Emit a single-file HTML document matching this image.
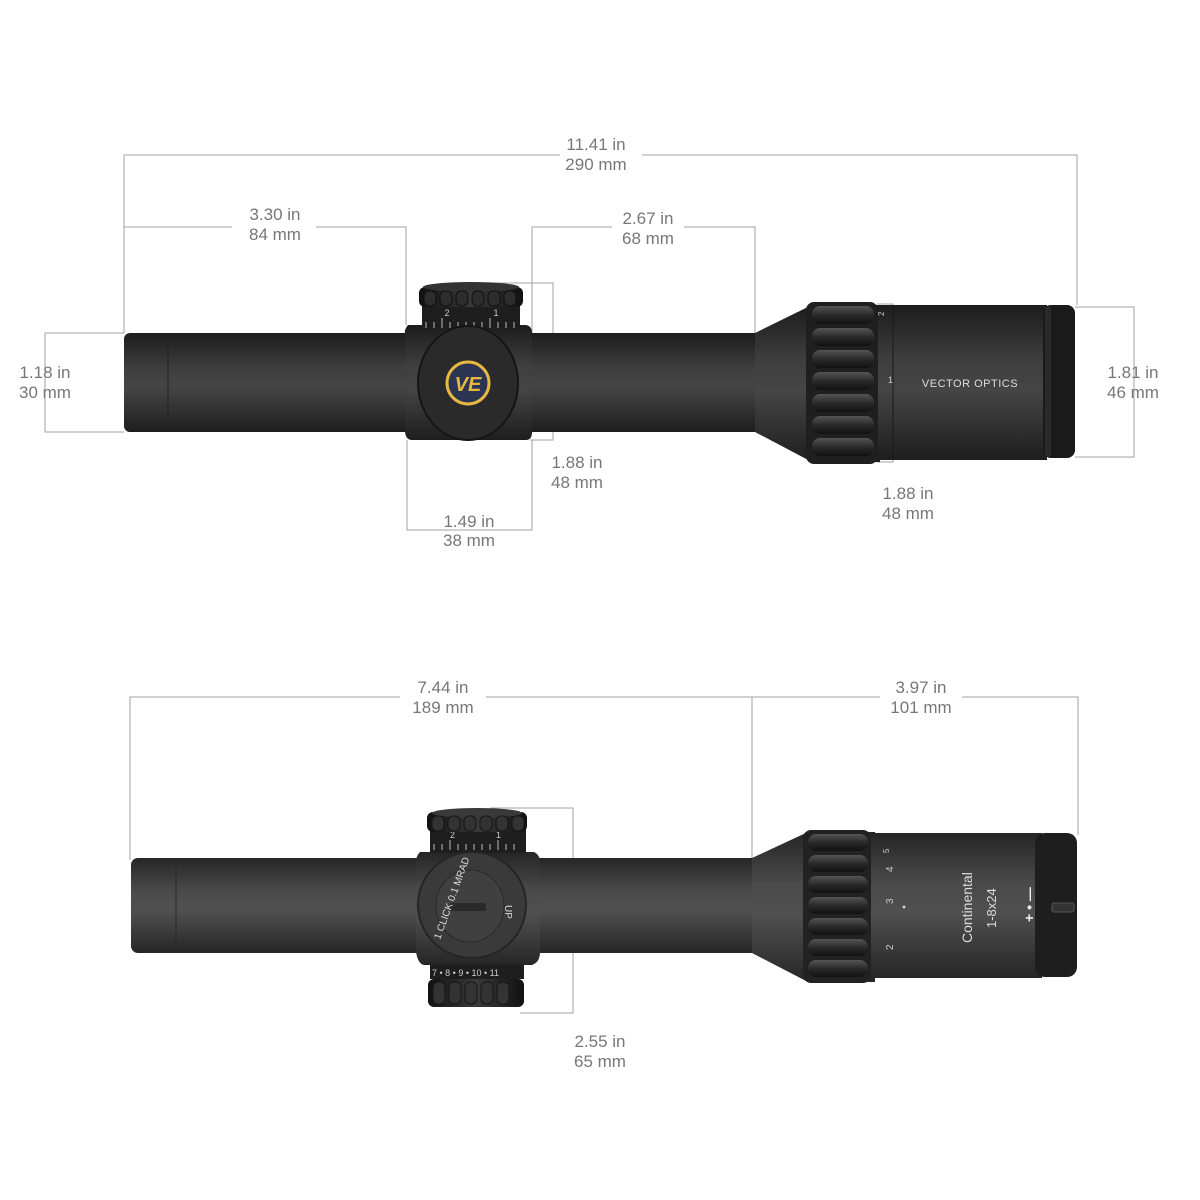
<!DOCTYPE html>
<html><head><meta charset="utf-8"><style>
html,body{margin:0;padding:0;background:#fff;}
svg{display:block;}
text{font-family:"Liberation Sans",sans-serif;}
.d{fill:#777;font-size:17px;text-anchor:middle;}
.l{stroke:#a0a0a0;stroke-width:1;fill:none;}
</style></head><body>
<svg width="1200" height="1200" viewBox="0 0 1200 1200" xmlns="http://www.w3.org/2000/svg">
<defs>
<linearGradient id="t" x1="0" y1="0" x2="0" y2="1">
<stop offset="0" stop-color="#1c1c1c"/><stop offset="0.35" stop-color="#3e3e3e"/><stop offset="0.55" stop-color="#454545"/><stop offset="1" stop-color="#1e1e1e"/></linearGradient>
<linearGradient id="t2" x1="0" y1="0" x2="0" y2="1">
<stop offset="0" stop-color="#262626"/><stop offset="0.35" stop-color="#4a4a4a"/><stop offset="0.55" stop-color="#505050"/><stop offset="1" stop-color="#262626"/></linearGradient>
<linearGradient id="k" x1="0" y1="0" x2="0" y2="1">
<stop offset="0" stop-color="#555"/><stop offset="0.5" stop-color="#2a2a2a"/><stop offset="1" stop-color="#111"/></linearGradient>
<linearGradient id="kv" x1="0" y1="0" x2="1" y2="0">
<stop offset="0" stop-color="#111"/><stop offset="0.5" stop-color="#3a3a3a"/><stop offset="1" stop-color="#111"/></linearGradient>
</defs>

<!-- ============ TOP DIMENSIONS ============ -->
<path class="l" d="M124 333V155H560M642 155H1077V305"/>
<text class="d" x="596" y="150">11.41 in</text><text class="d" x="596" y="170">290 mm</text>
<path class="l" d="M124 227H232M316 227H406V325"/>
<text class="d" x="275" y="220">3.30 in</text><text class="d" x="275" y="240">84 mm</text>
<path class="l" d="M532 335V227H612M684 227H755V333"/>
<text class="d" x="648" y="224">2.67 in</text><text class="d" x="648" y="244">68 mm</text>
<path class="l" d="M124 333H45V432H124"/>
<text class="d" x="45" y="378">1.18 in</text><text class="d" x="45" y="398">30 mm</text>
<path class="l" d="M1075 307H1134V457H1075"/>
<text class="d" x="1133" y="378">1.81 in</text><text class="d" x="1133" y="398">46 mm</text>
<path class="l" d="M490 283H553V440H530"/>
<text class="d" x="577" y="468">1.88 in</text><text class="d" x="577" y="488">48 mm</text>
<path class="l" d="M407 440V530H532V440"/>
<text class="d" x="469" y="527">1.49 in</text><text class="d" x="469" y="546">38 mm</text>
<path class="l" d="M877 304H893V462H877"/>
<text class="d" x="908" y="499">1.88 in</text><text class="d" x="908" y="519">48 mm</text>

<!-- ============ TOP SCOPE ============ -->
<rect x="124" y="333" width="300" height="99" rx="6" fill="url(#t)"/>
<line x1="168" y1="335" x2="168" y2="430" stroke="#222" stroke-width="1"/>
<rect x="520" y="333" width="240" height="99" fill="url(#t)"/>
<path d="M755 333L812 305H880V462H812L755 432Z" fill="url(#t)"/>
<rect x="877" y="305" width="170" height="155" fill="url(#t)"/>
<line x1="893" y1="306" x2="893" y2="459" stroke="#1a1a1a"/>
<rect x="1043" y="305" width="32" height="153" rx="8" fill="#1a1a1a"/>
<rect x="1045" y="307" width="6" height="149" fill="#2a2a2a"/>
<!-- ring -->
<rect x="806" y="302" width="72" height="162" rx="8" fill="#1f1f1f"/>
<g fill="url(#k)">
<rect x="812" y="306" width="62" height="18" rx="8"/><rect x="812" y="328" width="62" height="18" rx="8"/>
<rect x="812" y="350" width="62" height="18" rx="8"/><rect x="812" y="372" width="62" height="18" rx="8"/>
<rect x="812" y="394" width="62" height="18" rx="8"/><rect x="812" y="416" width="62" height="18" rx="8"/>
<rect x="812" y="438" width="62" height="18" rx="8"/>
</g>
<text x="884" y="316" fill="#ccc" font-size="8" transform="rotate(-90 884 316)">2</text>
<text x="888" y="383" fill="#ccc" font-size="9">1</text>
<text x="970" y="387" fill="#ddd" font-size="11" text-anchor="middle" letter-spacing="0.5">VECTOR OPTICS</text>
<!-- turret block -->
<path d="M408 325Q404 330 405 333V432Q406 440 412 440H526Q532 440 532 432V333Q532 326 526 325Z" fill="url(#t)"/>
<rect x="422" y="303" width="98" height="26" fill="#1e1e1e"/>
<g stroke="#bbb" stroke-width="1">
<line x1="426" y1="322" x2="426" y2="328"/><line x1="434" y1="322" x2="434" y2="328"/><line x1="442" y1="318" x2="442" y2="328"/>
<line x1="450" y1="322" x2="450" y2="328"/><line x1="458" y1="322" x2="458" y2="328"/><line x1="466" y1="322" x2="466" y2="328"/>
<line x1="474" y1="322" x2="474" y2="328"/><line x1="482" y1="322" x2="482" y2="328"/><line x1="490" y1="318" x2="490" y2="328"/>
<line x1="498" y1="322" x2="498" y2="328"/><line x1="506" y1="322" x2="506" y2="328"/><line x1="514" y1="322" x2="514" y2="328"/>
</g>
<text x="447" y="316" fill="#ccc" font-size="9" text-anchor="middle">2</text>
<text x="496" y="316" fill="#ccc" font-size="9" text-anchor="middle">1</text>
<rect x="419" y="287" width="104" height="20" rx="6" fill="url(#kv)"/>
<ellipse cx="471" cy="287" rx="48" ry="5" fill="#333"/>
<g fill="#2d2d2d" stroke="#111"><rect x="424" y="291" width="12" height="15" rx="5"/><rect x="440" y="291" width="12" height="15" rx="5"/><rect x="456" y="291" width="12" height="15" rx="5"/><rect x="472" y="291" width="12" height="15" rx="5"/><rect x="488" y="291" width="12" height="15" rx="5"/><rect x="504" y="291" width="12" height="15" rx="5"/></g>
<ellipse cx="468" cy="383" rx="50" ry="57" fill="#2a2a2a" stroke="#151515" stroke-width="2"/>
<circle cx="468" cy="383" r="21" fill="#2b3552" stroke="#e8b843" stroke-width="3"/>
<text x="468" y="391" fill="#e8b843" font-size="20" font-weight="bold" text-anchor="middle" font-style="italic">VE</text>

<!-- ============ BOTTOM DIMENSIONS ============ -->
<path class="l" d="M130 860V697H400M486 697H752V858M752 697H880M962 697H1078V835"/>
<text class="d" x="443" y="693">7.44 in</text><text class="d" x="443" y="713">189 mm</text>
<text class="d" x="921" y="693">3.97 in</text><text class="d" x="921" y="713">101 mm</text>
<path class="l" d="M490 808H573V1013H520"/>
<text class="d" x="600" y="1047">2.55 in</text><text class="d" x="600" y="1067">65 mm</text>

<!-- ============ BOTTOM SCOPE ============ -->
<rect x="131" y="858" width="300" height="95" rx="7" fill="url(#t2)"/>
<line x1="176" y1="860" x2="176" y2="951" stroke="#2a2a2a"/>
<rect x="530" y="858" width="226" height="95" fill="url(#t2)"/>
<path d="M752 858L808 832H875V982H808L752 953Z" fill="url(#t2)"/>
<rect x="870" y="833" width="172" height="145" fill="url(#t2)"/>
<rect x="1035" y="833" width="42" height="144" rx="10" fill="#1e1e1e"/>
<rect x="1052" y="903" width="22" height="9" rx="2" fill="#333" stroke="#555"/>
<rect x="803" y="830" width="68" height="153" rx="8" fill="#222"/>
<g fill="url(#k)">
<rect x="808" y="834" width="60" height="17" rx="8"/><rect x="808" y="855" width="60" height="17" rx="8"/>
<rect x="808" y="876" width="60" height="17" rx="8"/><rect x="808" y="897" width="60" height="17" rx="8"/>
<rect x="808" y="918" width="60" height="17" rx="8"/><rect x="808" y="939" width="60" height="17" rx="8"/>
<rect x="808" y="960" width="60" height="17" rx="8"/>
</g>
<g fill="#ccc" font-size="10">
<text x="893" y="950" transform="rotate(-90 893 950)">2</text>
<text x="893" y="904" transform="rotate(-90 893 904)">3</text>
<text x="893" y="872" transform="rotate(-90 893 872)">4</text>
<text x="889" y="853" transform="rotate(-90 889 853)" font-size="8">5</text>
</g>
<circle cx="904" cy="907" r="1.5" fill="#ccc"/>
<text x="972" y="943" fill="#ddd" font-size="14" transform="rotate(-90 972 943)">Continental</text>
<text x="996" y="928" fill="#ddd" font-size="13" transform="rotate(-90 996 928)">1-8x24</text>
<text x="1034" y="922" fill="#eee" font-size="14" font-weight="bold" transform="rotate(-90 1034 922)">+ • —</text>
<!-- turret bottom -->
<path d="M420 852Q416 856 416 862V952Q418 964 424 965H532Q540 962 540 952V862Q540 855 534 852Z" fill="url(#t2)"/>
<rect x="430" y="829" width="96" height="24" fill="#1e1e1e"/>
<g stroke="#bbb"><line x1="434" y1="844" x2="434" y2="850"/><line x1="442" y1="844" x2="442" y2="850"/><line x1="450" y1="840" x2="450" y2="850"/><line x1="458" y1="844" x2="458" y2="850"/><line x1="466" y1="844" x2="466" y2="850"/><line x1="474" y1="844" x2="474" y2="850"/><line x1="482" y1="844" x2="482" y2="850"/><line x1="490" y1="844" x2="490" y2="850"/><line x1="498" y1="840" x2="498" y2="850"/><line x1="506" y1="844" x2="506" y2="850"/><line x1="514" y1="844" x2="514" y2="850"/></g>
<text x="450" y="838" fill="#ccc" font-size="9">2</text><text x="496" y="838" fill="#ccc" font-size="9">1</text>
<rect x="427" y="812" width="100" height="20" rx="6" fill="url(#kv)"/>
<ellipse cx="477" cy="813" rx="45" ry="5" fill="#3a3a3a"/>
<g fill="#333" stroke="#151515"><rect x="432" y="816" width="12" height="15" rx="5"/><rect x="448" y="816" width="12" height="15" rx="5"/><rect x="464" y="816" width="12" height="15" rx="5"/><rect x="480" y="816" width="12" height="15" rx="5"/><rect x="496" y="816" width="12" height="15" rx="5"/><rect x="512" y="816" width="12" height="15" rx="5"/></g>
<ellipse cx="472" cy="905" rx="54" ry="53" fill="#3a3a3a" stroke="#252525" stroke-width="2"/>
<ellipse cx="470" cy="906" rx="34" ry="36" fill="#404040" stroke="#2a2a2a"/>
<rect x="450" y="903" width="36" height="8" rx="2" fill="#2a2a2a"/>
<text x="440" y="940" fill="#ddd" font-size="10" transform="rotate(-70 440 940)">1 CLICK 0.1 MRAD</text>
<text x="505" y="905" fill="#ddd" font-size="10" transform="rotate(90 505 905)">UP</text>
<rect x="430" y="965" width="94" height="14" fill="#1e1e1e"/>
<text x="432" y="976" fill="#ccc" font-size="9">7 • 8 • 9 • 10 • 11</text>
<rect x="428" y="979" width="96" height="28" rx="6" fill="url(#kv)"/>
<g fill="#333" stroke="#151515"><rect x="433" y="982" width="12" height="22" rx="5"/><rect x="449" y="982" width="12" height="22" rx="5"/><rect x="465" y="982" width="12" height="22" rx="5"/><rect x="481" y="982" width="12" height="22" rx="5"/><rect x="497" y="982" width="12" height="22" rx="5"/></g>
</svg>
</body></html>
